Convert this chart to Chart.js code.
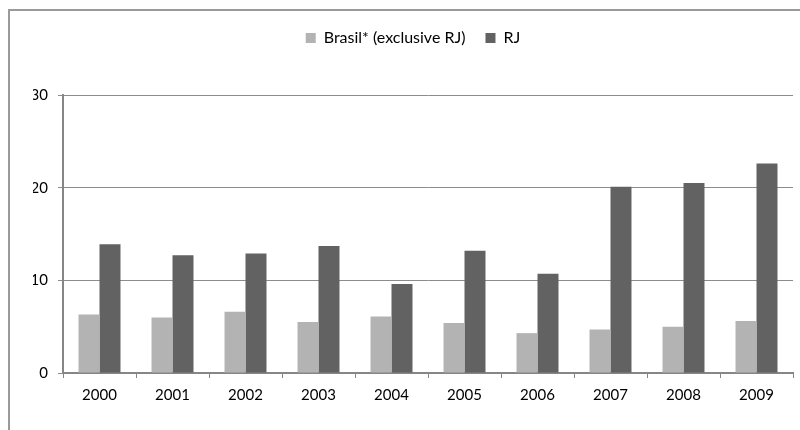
<!DOCTYPE html>
<html>
<head>
<meta charset="utf-8">
<script src="https://cdn.jsdelivr.net/npm/chart.js@4/dist/chart.umd.min.js"></script>
<style>
  html, body { margin: 0; padding: 0; background: #ffffff; }
  #frame { position: absolute; left: 8px; top: 9px; width: 800px; height: 430px;
           border-top: 2px solid #9a9a9a; border-left: 2px solid #9a9a9a; }
  #wrap { position: absolute; left: 0; top: 0; width: 800px; height: 430px; }
</style>
</head>
<body>
<div id="frame"></div>
<div id="wrap"><canvas id="c" width="800" height="430"></canvas></div>
<script>
const categories = ['2000', '2001', '2002', '2003', '2004', '2005', '2006', '2007', '2008', '2009'];
const brasil = [6.3, 6.0, 6.6, 5.5, 6.1, 5.4, 4.3, 4.7, 5.0, 5.6];
const rj = [13.9, 12.7, 12.9, 13.7, 9.6, 13.2, 10.7, 20.1, 20.5, 22.6];
const seriesNames = ['Brasil* (exclusive RJ)', 'RJ'];
const yTicks = [0, 10, 20, 30];

const legendSpacer = {
  id: 'legendSpacer',
  beforeInit(chart) {
    const origFit = chart.legend.fit;
    chart.legend.fit = function () {
      origFit.bind(chart.legend)();
      this.height += 39;
    };
  }
};

new Chart(document.getElementById('c'), {
  type: 'bar',
  data: {
    labels: categories,
    datasets: [
      { label: seriesNames[0], data: brasil, backgroundColor: '#b3b3b3', borderWidth: 0 },
      { label: seriesNames[1], data: rj, backgroundColor: '#626262', borderWidth: 0 }
    ]
  },
  options: {
    responsive: false,
    animation: false,
    devicePixelRatio: 1,
    layout: { padding: { left: 33, right: 7, top: 10, bottom: 0 } },
    datasets: { bar: { categoryPercentage: 0.575, barPercentage: 1.0 } },
    plugins: {
      legend: {
        position: 'top',
        labels: {
          boxWidth: 10, boxHeight: 10, padding: 20,
          color: '#000000',
          font: { family: 'Lato', size: 16 }
        }
      },
      tooltip: { enabled: false }
    },
    scales: {
      x: {
        grid: { display: true, drawOnChartArea: false, drawTicks: true, tickLength: 5, color: '#868686', lineWidth: 1, offset: true },
        border: { display: true, color: '#868686', width: 2 },
        ticks: { color: '#000000', font: { family: 'Lato', size: 15 }, padding: 8, maxRotation: 0 },
        afterFit(scale) { scale.height = 57; }
      },
      y: {
        min: 0, max: 30,
        afterBuildTicks(scale) { scale.ticks = yTicks.map(v => ({ value: v })); },
        grid: { color: '#8c8c8c', lineWidth: 1, drawTicks: true, tickLength: 5 },
        border: { display: true, color: '#868686', width: 2 },
        ticks: { color: '#000000', font: { family: 'Lato', size: 15 }, padding: 10 },
        afterFit(scale) { scale.width = 30; }
      }
    }
  },
  plugins: [legendSpacer]
});
</script>
</body>
</html>
